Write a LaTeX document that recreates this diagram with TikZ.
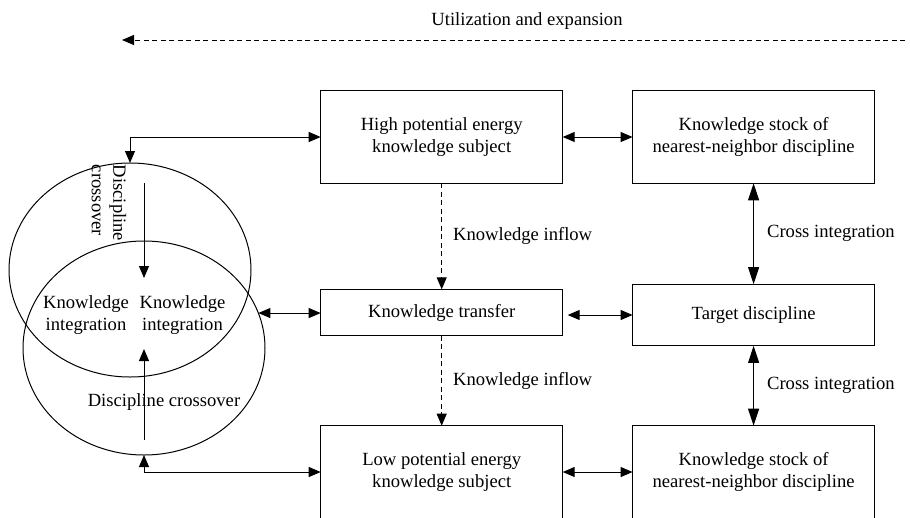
\documentclass[tikz,border=0pt]{standalone}
\usepackage{fontspec}
\setmainfont{Liberation Serif}
\usetikzlibrary{arrows.meta,shapes.geometric}
\tikzset{
box/.style = {draw, minimum width=242pt, minimum height=#1, align=center, inner sep=2pt, outer sep=0pt},
box/.default = 92.6pt, % height of the large boxes
ring/.style = {ellipse, draw, minimum width=242pt, minimum height=214pt, inner sep=0pt, outer sep=0pt},
tip/.style = {-{Triangle[length=12pt,width=10pt]}},
link/.style = {{Triangle[length=12pt,width=10pt]}-{Triangle[length=12pt,width=10pt]}},
longlink/.style = {{Triangle[length=17pt,width=11pt]}-{Triangle[length=17pt,width=11pt]}},
flow/.style = {tip, dash pattern=on 5pt off 3.5pt},
lbl/.style = {inner sep=1pt, align=center}
}

\begin{document}
\begin{tikzpicture}[x=1pt, y=-1pt, line width=1pt,
      font=\fontsize{18.6}{21.7}\selectfont]
      \clip (0,0) rectangle (910,517);
      % top arrow
      \node [lbl, anchor=base] (use) at (527,25) {Utilization and expansion};
      \coordinate (useR) at (905,40);
      \coordinate (useL) at (122,40);
      \draw [flow] (useR) -- (useL);
      % boxes
      \node [box] (high) at (441.7,137) {High potential energy\\knowledge subject};
      \node [box=46.4pt] (transfer) at (441.7,312.5) {Knowledge transfer};
      \node [box] (low) at (441.7,472) {Low potential energy\\knowledge subject};
      \node [box] (stockA) at (753.6,137) {Knowledge stock of\\nearest-neighbor discipline};
      \node [box=61.7pt] (target) at (753.6,315) {Target discipline};
      \node [box] (stockB) at (753.6,472) {Knowledge stock of\\nearest-neighbor discipline};
      % circles
      \node [ring] (upper) at (130,270) {};
      \node [ring] (lower) at (144,348) {};
      \node [lbl, rotate=-90, align=left] (crossA) at (109,203) {Discipline\\crossover};
      \node [lbl] (intA) at (86,315) {Knowledge\\integration};
      \node [lbl] (intB) at (182.5,315) {Knowledge\\integration};
      \node [lbl] (crossB) at (164,401.7) {Discipline crossover};
      \coordinate (downS) at (144,183);
      \coordinate (downE) at (144,278);
      \coordinate (upS) at (144,440);
      \coordinate (upE) at (144,349);
      \draw [tip] (downS) -- (downE);
      \draw [tip] (upS) -- (upE);
      % connectors
      \draw [link] (high.west) -| (upper.north);
      \draw [link] (lower.17.5) -- (lower.17.5 -| transfer.west);
      \draw [link] (low.west) -| (lower.south);
      \draw [flow] (high.south) -- (transfer.north)
        node [lbl, midway, right=10pt] (inflowA) {Knowledge inflow};
      \draw [flow] (transfer.south) -- (low.north)
        node [lbl, midway, right=10pt] (inflowB) {Knowledge inflow};
      \draw [link] (high.east) -- (stockA.west);
      \draw [link] (target.west) -- ([xshift=5pt]target.west -| transfer.east);
      \draw [link] (low.east) -- (stockB.west);
      \draw [longlink] (target.north) -- (stockA.south)
        node [lbl, midway, right=12pt] (crossC) {Cross integration};
      \draw [longlink] (target.south) -- (stockB.north)
        node [lbl, midway, right=12pt] (crossD) {Cross integration};
\end{tikzpicture}
\end{document}
